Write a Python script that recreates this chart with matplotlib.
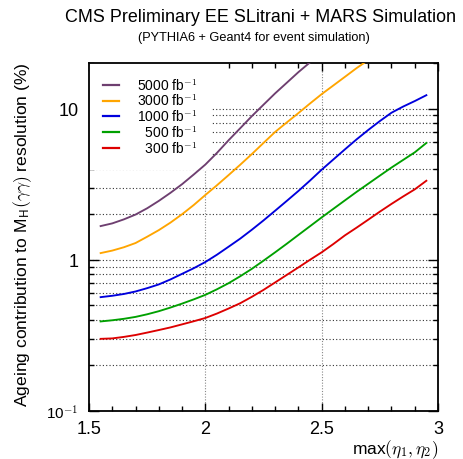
import matplotlib
matplotlib.use("Agg")
import matplotlib.pyplot as plt
from matplotlib.ticker import FixedLocator, FixedFormatter, NullFormatter, MultipleLocator

plt.rcParams['font.family'] = ['Liberation Sans', 'DejaVu Sans']
plt.rcParams['mathtext.fontset'] = 'cm'

# ---- data ----
eta = [1.55, 1.60, 1.65, 1.70, 1.75, 1.80, 1.85, 1.90, 1.95, 2.00,
       2.05, 2.10, 2.15, 2.20, 2.25, 2.30, 2.35, 2.40, 2.45, 2.50,
       2.55, 2.60, 2.65, 2.70, 2.75, 2.80, 2.85, 2.90, 2.95]

res_5000 = [1.67, 1.74, 1.85, 1.99, 2.19, 2.45, 2.77, 3.16, 3.66, 4.26,
            5.09, 6.17, 7.41, 8.91, 10.6, 12.6, 14.8, 17.4, 20.2, 23.4,
            None, None, None, None, None, None, None, None, None]
res_3000 = [1.107, 1.15, 1.21, 1.29, 1.42, 1.57, 1.76, 2.0, 2.30, 2.68,
            3.11, 3.63, 4.25, 5.0, 5.92, 7.0, 8.09, 9.33, 10.8, 12.45,
            14.2, 16.2, 18.5, 20.9, None, None, None, None, None]
res_1000 = [0.566, 0.578, 0.594, 0.617, 0.649, 0.687, 0.741, 0.807, 0.879, 0.966,
            1.08, 1.22, 1.38, 1.58, 1.82, 2.11, 2.45, 2.85, 3.34, 3.94,
            4.60, 5.37, 6.25, 7.21, 8.26, 9.38, 10.3, 11.2, 12.25]
res_500 = [0.391, 0.398, 0.407, 0.419, 0.436, 0.457, 0.483, 0.513, 0.547, 0.586,
           0.638, 0.70, 0.778, 0.871, 0.986, 1.12, 1.276, 1.459, 1.667, 1.905,
           2.17, 2.47, 2.81, 3.18, 3.60, 4.07, 4.57, 5.13, 5.92]
res_300 = [0.30, 0.302, 0.309, 0.318, 0.330, 0.343, 0.357, 0.374, 0.392, 0.412,
           0.441, 0.476, 0.516, 0.569, 0.632, 0.708, 0.794, 0.89, 1.0, 1.12,
           1.27, 1.45, 1.63, 1.84, 2.08, 2.34, 2.62, 2.92, 3.33]

labels = ["5000 fb$^{\\mathsf{-1}}$", "3000 fb$^{\\mathsf{-1}}$", "1000 fb$^{\\mathsf{-1}}$",
          "\u2007500 fb$^{\\mathsf{-1}}$", "\u2007300 fb$^{\\mathsf{-1}}$"]
colors = ["#6e3f70", "#ffa500", "#0000dd", "#00a000", "#dd0000"]
series = [res_5000, res_3000, res_1000, res_500, res_300]

xticks = [1.5, 2.0, 2.5, 3.0]
xticklabels = ["1.5", "2", "2.5", "3"]
yticks = [0.1, 1, 10]
yticklabels = ["10$^{\\mathsf{-1}}$", "1", "10"]

fig = plt.figure(figsize=(4.64, 4.60), dpi=100)
ax = fig.add_axes([89/464, 48/460, 349/464, 348/460])

for ys, c, lab in zip(series, colors, labels):
    xs = [x for x, y in zip(eta, ys) if y is not None]
    yv = [y for y in ys if y is not None]
    ax.plot(xs, yv, color=c, lw=1.35, label=lab, zorder=3)

ax.set_yscale('log')
ax.set_xlim(1.5, 3.0)
ax.set_ylim(0.1, 20)

ax.xaxis.set_major_locator(FixedLocator(xticks))
ax.xaxis.set_major_formatter(FixedFormatter(xticklabels))
ax.xaxis.set_minor_locator(MultipleLocator(0.1))
ax.yaxis.set_major_locator(FixedLocator(yticks))
ax.yaxis.set_major_formatter(FixedFormatter(yticklabels))
minor_y = [m * d for d in (0.1, 1, 10) for m in range(2, 10) if m * d <= 20]
ax.yaxis.set_minor_locator(FixedLocator(minor_y))
ax.yaxis.set_minor_formatter(NullFormatter())

ax.tick_params(which='both', direction='in', top=True, right=True, labelsize=13, width=1.0)
ax.tick_params(axis='x', which='major', length=6, pad=6.5)
ax.tick_params(axis='y', which='major', length=7, pad=7.5)
ax.tick_params(which='minor', length=3.5)
for s in ax.spines.values():
    s.set_linewidth(1.3)

fig.canvas.draw()
for lbl in ax.get_yticklabels():
    if lbl.get_text().startswith("10$"):
        lbl.set_fontsize(11)

# grid
for y in minor_y + yticks:
    if 0.1 < y < 20:
        ax.axhline(y, color='#333333', lw=0.8, ls=(0, (1, 2)), zorder=1)
for x in [2.0, 2.5]:
    ax.axvline(x, color='#888888', lw=0.8, ls=(0, (1, 1.5)), zorder=1)

leg = ax.legend(loc='upper left', bbox_to_anchor=(0, 1), borderaxespad=0,
                frameon=True, fancybox=False, framealpha=1, edgecolor='none',
                fontsize=10, handlelength=1.15, handletextpad=1.3, labelspacing=0.02,
                borderpad=1.0)
leg.set_zorder(2)
for h in leg.get_lines():
    h.set_linewidth(1.6)

ax.set_xlabel("max$(\\eta_1, \\eta_2)$", fontsize=12.5, loc='right', labelpad=0)
ax.set_ylabel("Ageing contribution to M$_{\\mathsf{H}}$$(\\gamma\\gamma)$ resolution (%)", fontsize=12.6)
ax.yaxis.set_label_coords(-0.158, 0.51)

fig.text(0.561, 1 - 18/460, "CMS Preliminary EE SLitrani + MARS Simulation", ha='center', va='center', fontsize=12.9)
fig.text(0.548, 1 - 38/460, "(PYTHIA6 + Geant4 for event simulation)", ha='center', va='center', fontsize=9.2)

fig.savefig("out.png", dpi=100)
